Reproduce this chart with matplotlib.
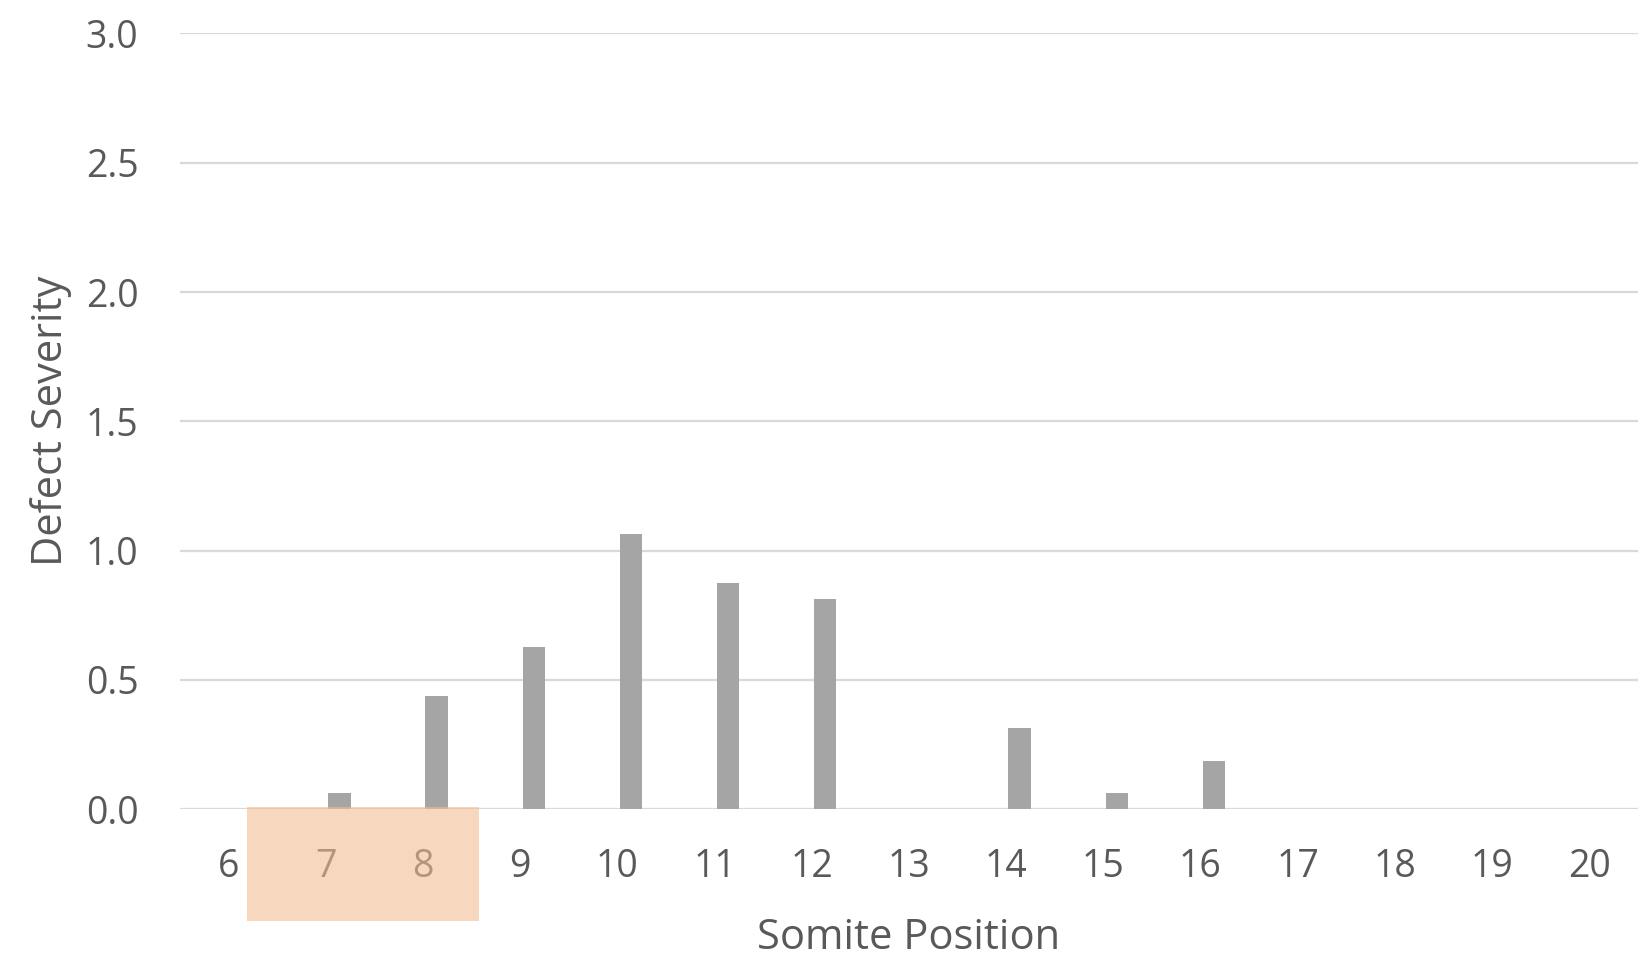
"""Somite position vs defect severity bar chart."""
import matplotlib
matplotlib.use("Agg")
import matplotlib.pyplot as plt
from matplotlib.patches import Rectangle

positions = [6, 7, 8, 9, 10, 11, 12, 13, 14, 15, 16, 17, 18, 19, 20]
severity = [0, 0.0625, 0.4375, 0.625, 1.0625, 0.875, 0.8125, 0, 0.3125,
            0.0625, 0.1875, 0, 0, 0, 0]
yticks = [0.0, 0.5, 1.0, 1.5, 2.0, 2.5, 3.0]

TXT = "#595959"
plt.rcParams["font.family"] = ["Open Sans", "DejaVu Sans"]


def main():
    fig = plt.figure(figsize=(16.41, 9.65), dpi=100)
    ax = fig.add_axes([0.1097, 0.1616, 0.8883, 0.8037])

    x = list(range(len(positions)))
    ax.bar([i + 0.14 for i in x], severity, width=0.23, color="#A5A5A5", zorder=2)

    ax.set_xlim(-0.5, len(positions) - 0.5)
    ax.set_ylim(0, 3.0)
    ax.set_yticks(yticks)
    ax.set_yticklabels([f"{v:.1f}" for v in yticks])
    ax.set_xticks(x)
    ax.set_xticklabels([str(p) for p in positions])
    ax.tick_params(axis="both", length=0, labelsize=27, colors=TXT)
    ax.tick_params(axis="y", pad=30)
    ax.tick_params(axis="x", pad=28)
    ax.grid(axis="y", color="#D9D9D9", lw=1.6, zorder=0)
    for s in ax.spines.values():
        s.set_visible(False)

    ax.set_xlabel("Somite Position", fontsize=30, color=TXT, labelpad=22)
    ax.set_ylabel("Defect Severity", fontsize=30, color=TXT, labelpad=10)

    # highlight box over positions 7 and 8
    ax.add_patch(Rectangle((0.19, -0.433), 2.39, 0.441, facecolor="#F2BE94",
                           alpha=0.6, edgecolor="none", clip_on=False, zorder=5))

    fig.savefig("out.png", dpi=100)


if __name__ == "__main__":
    main()
